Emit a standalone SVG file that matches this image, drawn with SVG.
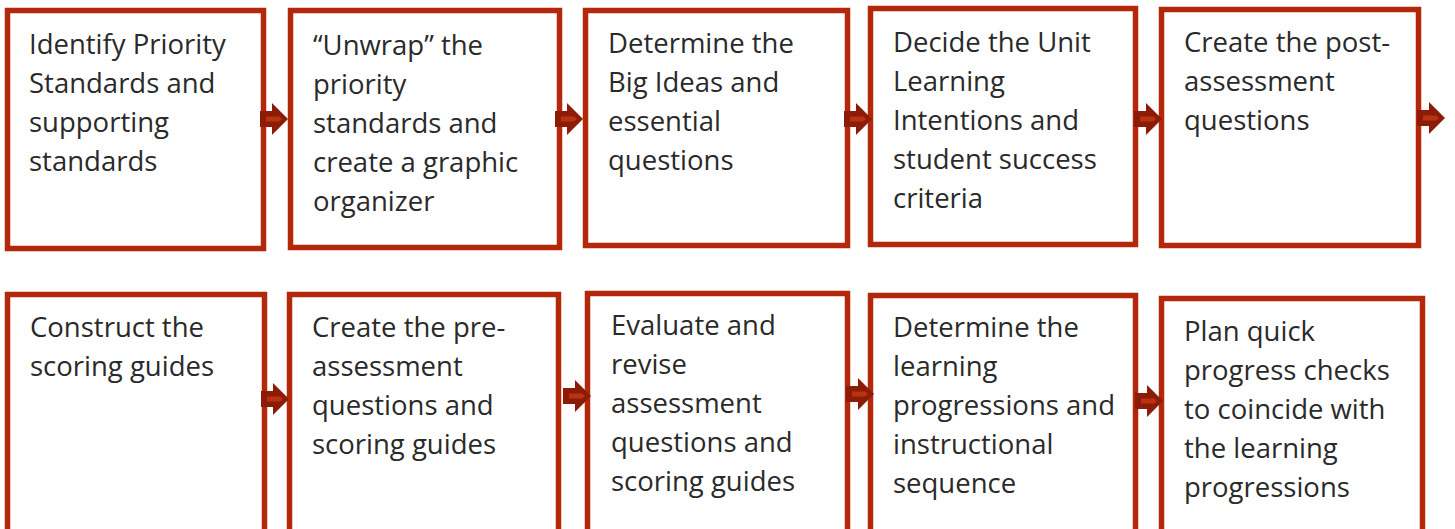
<svg xmlns="http://www.w3.org/2000/svg" width="1455" height="529" viewBox="0 0 1455 529">
<style>
.box{fill:#ffffff;stroke:#b3280a;stroke-width:5.5;}
.t{font-family:"Open Sans","Liberation Sans",sans-serif;font-size:27.5px;fill:#2a2a2a;}
.ah{fill:#8c1c08;}
.hl{fill:#b8330f;}
</style>
<defs>
<g id="arr">
<path class="ah" d="M-28,-8 H-16 V-16 L0,0 L-16,16 V8 H-28 Z"/>
<path class="hl" d="M-22,-2.5 H-9 L-6,0 L-9,2.5 H-22 Z"/>
</g>
</defs>
<rect width="1455" height="529" fill="#ffffff"/>
<g id="n1">
<rect class="box" x="7.5" y="10.5" width="256" height="238"/>
<text class="t" x="29"><tspan x="29" y="54">Identify Priority</tspan><tspan x="29" y="93">Standards and</tspan><tspan x="29" y="132">supporting</tspan><tspan x="29" y="171">standards</tspan></text>
</g>
<g id="n2">
<rect class="box" x="290.5" y="10.5" width="269" height="237"/>
<text class="t"><tspan x="313" y="55">“Unwrap” the</tspan><tspan x="313" y="94">priority</tspan><tspan x="313" y="133">standards and</tspan><tspan x="313" y="172">create a graphic</tspan><tspan x="313" y="211">organizer</tspan></text>
</g>
<g id="n3">
<rect class="box" x="585.5" y="10.5" width="262" height="235"/>
<text class="t"><tspan x="608" y="53">Determine the</tspan><tspan x="608" y="92">Big Ideas and</tspan><tspan x="608" y="131">essential</tspan><tspan x="608" y="170">questions</tspan></text>
</g>
<g id="n4">
<rect class="box" x="870.5" y="8.5" width="265" height="236"/>
<text class="t"><tspan x="893" y="52">Decide the Unit</tspan><tspan x="893" y="91">Learning</tspan><tspan x="893" y="130">Intentions and</tspan><tspan x="893" y="169">student success</tspan><tspan x="893" y="208">criteria</tspan></text>
</g>
<g id="n5">
<rect class="box" x="1161.5" y="9.5" width="257" height="236"/>
<text class="t"><tspan x="1184" y="52">Create the post-</tspan><tspan x="1184" y="91">assessment</tspan><tspan x="1184" y="130">questions</tspan></text>
</g>
<g id="n6">
<rect class="box" x="7.5" y="294.5" width="257" height="260"/>
<text class="t"><tspan x="30" y="337">Construct the</tspan><tspan x="30" y="376">scoring guides</tspan></text>
</g>
<g id="n7">
<rect class="box" x="289.5" y="294.5" width="269" height="260"/>
<text class="t"><tspan x="312" y="337">Create the pre-</tspan><tspan x="312" y="376">assessment</tspan><tspan x="312" y="415">questions and</tspan><tspan x="312" y="454">scoring guides</tspan></text>
</g>
<g id="n8">
<rect class="box" x="587.5" y="293.5" width="260" height="260"/>
<text class="t"><tspan x="611" y="335">Evaluate and</tspan><tspan x="611" y="374">revise</tspan><tspan x="611" y="413">assessment</tspan><tspan x="611" y="452">questions and</tspan><tspan x="611" y="491">scoring guides</tspan></text>
</g>
<g id="n9">
<rect class="box" x="870.5" y="295.5" width="265" height="260"/>
<text class="t"><tspan x="893" y="337">Determine the</tspan><tspan x="893" y="376">learning</tspan><tspan x="893" y="415">progressions and</tspan><tspan x="893" y="454">instructional</tspan><tspan x="893" y="493">sequence</tspan></text>
</g>
<g id="n10">
<rect class="box" x="1161.5" y="298.5" width="261" height="260"/>
<text class="t"><tspan x="1184" y="341">Plan quick</tspan><tspan x="1184" y="380">progress checks</tspan><tspan x="1184" y="419">to coincide with</tspan><tspan x="1184" y="458">the learning</tspan><tspan x="1184" y="497">progressions</tspan></text>
</g>
<g id="connectors">
<use href="#arr" x="288" y="119"/>
<use href="#arr" x="583" y="119"/>
<use href="#arr" x="872" y="119"/>
<use href="#arr" x="1162" y="119"/>
<use href="#arr" x="1445" y="118"/>
<use href="#arr" x="289" y="399"/>
<use href="#arr" x="591" y="396"/>
<use href="#arr" x="874" y="394"/>
<use href="#arr" x="1163" y="401"/>
</g>
</svg>
